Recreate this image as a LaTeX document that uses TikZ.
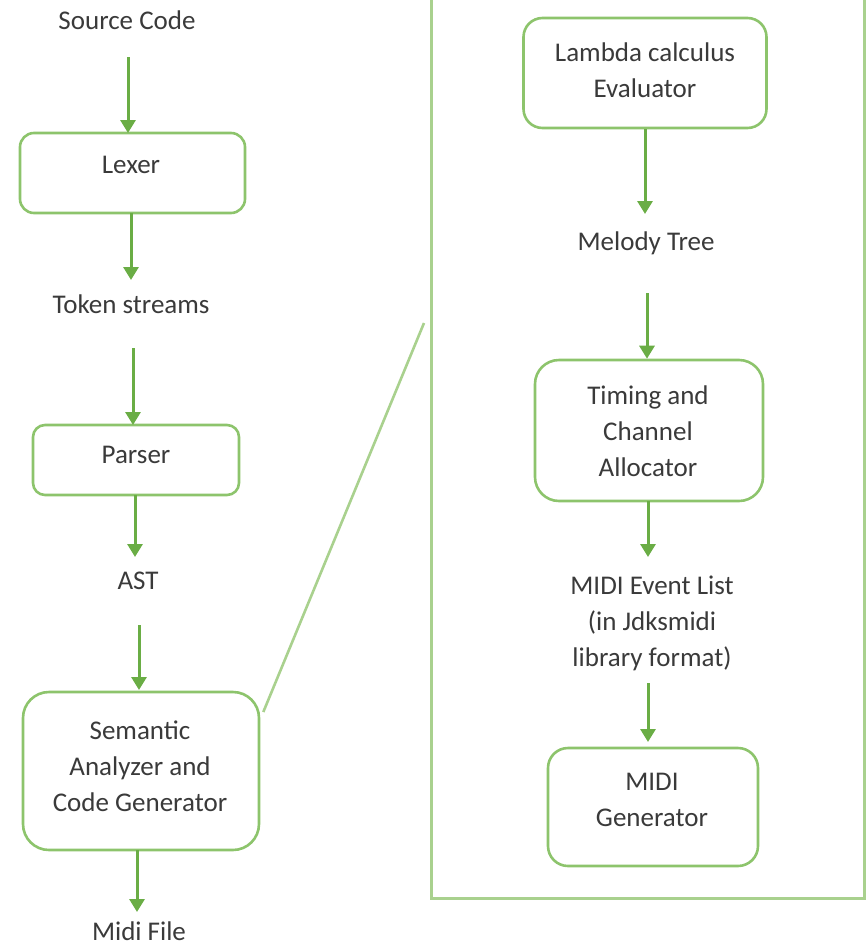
\documentclass[tikz,border=0pt]{standalone}
\usepackage{fontspec}
\setmainfont{Carlito}
\usetikzlibrary{arrows.meta}
\definecolor{boxline}{HTML}{8DC46C}
\definecolor{frameline}{HTML}{A9D18E}
\definecolor{flowarrow}{HTML}{6AAD45}
\definecolor{txt}{HTML}{3A3A3A}
\tikzset{
  stagebox/.style={draw=boxline, line width=2.6pt, fill=white, inner sep=0pt},
  lbl/.style={text=txt, align=center, inner sep=0pt, font=\fontsize{27}{36}\selectfont},
  flow/.style={draw=flowarrow, line width=3pt, -{Triangle[width=15pt,length=13pt]}},
  zoomline/.style={draw=frameline, line width=2.6pt},
}
\begin{document}
\begin{tikzpicture}[x=1pt, y=-1pt]
\useasboundingbox (0,0) rectangle (865,948);

% detail frame (open at the top)
\draw[draw=frameline, line width=3pt] (431,-10) -- (431,898) -- (864,898) -- (864,-10);

% ---------------- left column: compiler pipeline ----------------
\node[lbl] (src) at (127,20) {Source Code};
\node[stagebox, rounded corners=14pt, minimum width=225pt, minimum height=80pt] (lexer) at (132.5,173) {};
\node[lbl] (lexerT) at (131,165) {Lexer};
\node[lbl] (tokens) at (131,304) {Token streams};
\node[stagebox, rounded corners=12pt, minimum width=206pt, minimum height=70pt] (parser) at (136,460) {};
\node[lbl] (parserT) at (136,455) {Parser};
\node[lbl] (ast) at (138,581) {AST};
\node[stagebox, rounded corners=26pt, minimum width=236pt, minimum height=158pt] (sem) at (141,771) {};
\node[lbl] (semT) at (140,766) {Semantic\\Analyzer and\\Code Generator};
\node[lbl] (midi) at (139,931) {Midi File};

\coordinate (a1s) at (128,57);
\coordinate (a3s) at (133,348);
\coordinate (a5s) at (139,625);

\draw[flow] (a1s) -- (128,133);
\draw[flow] (131,213) -- (131,280);
\draw[flow] (a3s) -- (133,425);
\draw[flow] (135,495) -- (135,557);
\draw[flow] (a5s) -- (139,690);
\draw[flow] (137,850) -- (137,912);

% zoom line from the code generator to the detail frame
\coordinate (zoomEnd) at (424,323);
\draw[zoomline] ([xshift=3pt,yshift=59pt]sem.east) -- (zoomEnd);

% ---------------- right column: code generator detail ----------------
\node[stagebox, rounded corners=19pt, minimum width=243pt, minimum height=110pt] (lam) at (645,73) {};
\node[lbl] (lamT) at (645,70) {Lambda calculus\\Evaluator};
\node[lbl] (melody) at (646,243) {Melody Tree};
\node[stagebox, rounded corners=24pt, minimum width=228pt, minimum height=141pt] (timing) at (649,430.5) {};
\node[lbl] (timingT) at (648,431) {Timing and\\Channel\\Allocator};
\node[lbl] (events) at (652,623) {MIDI Event List\\(in Jdksmidi\\library format)};
\node[stagebox, rounded corners=20pt, minimum width=210pt, minimum height=118pt] (gen) at (653,807) {};
\node[lbl] (genT) at (652,800) {MIDI\\Generator};

\draw[flow] (lam.south) -- (645,214);
\draw[flow] (647,293) -- (timing.north -| 647,0);
\draw[flow] (648,501) -- (648,557);
\draw[flow] (648,683) -- (648,742);
\end{tikzpicture}
\end{document}
